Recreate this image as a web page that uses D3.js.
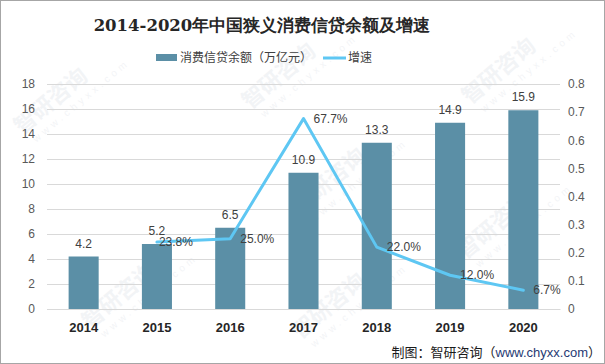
<!DOCTYPE html>
<html><head><meta charset="utf-8">
<script src="https://cdn.jsdelivr.net/npm/d3@7/dist/d3.min.js"></script>
<style>body{margin:0;background:#fff}svg{display:block}</style>
</head><body>
<svg id="c" width="605" height="364"></svg>
<script>
const years = ["2014","2015","2016","2017","2018","2019","2020"];
const balance = [4.2, 5.2, 6.5, 10.9, 13.3, 14.9, 15.9];
const growth = [null, 0.238, 0.25, 0.677, 0.22, 0.12, 0.067];
const growthLabels = ["", "23.8%", "25.0%", "67.7%", "22.0%", "12.0%", "6.7%"];
const leftTicks = [0,2,4,6,8,10,12,14,16,18];
const rightTicks = [0,0.1,0.2,0.3,0.4,0.5,0.6,0.7,0.8];

(function(){
const svg = d3.select("#c");
const W = 605, H = 364;
const pL = 47, pR = 560, pT = 84, pB = 309;
const barColor = "#5b8fa6", lineColor = "#5ec7f3";
const cjk = "'Noto Sans CJK SC','Microsoft YaHei',sans-serif";

svg.append("rect").attr("x",0.5).attr("y",0.5).attr("width",W-1).attr("height",H-1)
  .attr("fill","#fff").attr("stroke","#a6a6a6");

// faint watermarks
const wm = [[22,135],[250,110],[470,105],[465,260],[300,215],[90,330],[300,340]];
wm.forEach(([x,y])=>{
  const g = svg.append("g").attr("transform",`translate(${x},${y}) rotate(-40)`).attr("opacity",0.07);
  g.append("text").attr("x",0).attr("y",0).attr("font-family",cjk).attr("font-size",22).attr("font-weight","bold")
    .attr("fill","#5a6f8c").text("智研咨询");
  g.append("text").attr("x",6).attr("y",15).attr("font-family","Arial,sans-serif").attr("font-size",10)
    .attr("letter-spacing",4).attr("fill","#5a6f8c").text("www.chyxx.com");
});

const x = d3.scaleBand().domain(years).range([pL,pR]).paddingInner(0.59).paddingOuter(0.295);
const y = d3.scaleLinear().domain([0,18]).range([pB,pT]);
const y2 = d3.scaleLinear().domain([0,0.8]).range([pB,pT]);

// gridlines
svg.append("g").selectAll("line").data(leftTicks).join("line")
  .attr("x1",pL).attr("x2",pR).attr("y1",d=>y(d)+0.5).attr("y2",d=>y(d)+0.5)
  .attr("stroke","#d9d9d9").attr("stroke-width",1);

// left axis
const la = svg.append("g").attr("transform",`translate(${pL},0)`)
  .call(d3.axisLeft(y).tickValues(leftTicks).tickSize(0).tickPadding(12));
la.select(".domain").remove();
la.selectAll("text").attr("font-family","'Liberation Sans',Arial,sans-serif").attr("font-size",12).attr("fill","#595959");

// right axis
const ra = svg.append("g").attr("transform",`translate(${pR},0)`)
  .call(d3.axisRight(y2).tickValues(rightTicks).tickFormat(d=>d===0?"0":d3.format(".1f")(d)).tickSize(0).tickPadding(8));
ra.select(".domain").remove();
ra.selectAll("text").attr("font-family","'Liberation Sans',Arial,sans-serif").attr("font-size",12).attr("fill","#595959");

// bottom axis
const ba = svg.append("g").attr("transform",`translate(0,${pB})`)
  .call(d3.axisBottom(x).tickSize(0).tickPadding(14));
ba.select(".domain").attr("stroke","#d9d9d9");
ba.selectAll("text").attr("font-family","'Liberation Sans',Arial,sans-serif").attr("font-size",13)
  .attr("font-weight","bold").attr("fill","#262626");

// bars
svg.append("g").selectAll("rect").data(years).join("rect")
  .attr("x",d=>x(d)).attr("width",x.bandwidth())
  .attr("y",(d,i)=>y(balance[i])).attr("height",(d,i)=>pB-y(balance[i]))
  .attr("fill",barColor);
svg.append("g").selectAll("text").data(years).join("text")
  .attr("x",d=>x(d)+x.bandwidth()/2).attr("y",(d,i)=>y(balance[i])-9)
  .attr("text-anchor","middle").attr("font-family","'Liberation Sans',Arial,sans-serif").attr("font-size",12)
  .attr("fill","#404040").text((d,i)=>balance[i].toFixed(1));

// line
const pts = years.map((d,i)=>({d, v:growth[i], l:growthLabels[i]})).filter(p=>p.v!==null);
const line = d3.line().x(p=>x(p.d)+x.bandwidth()/2).y(p=>y2(p.v));
svg.append("path").datum(pts).attr("d",line).attr("fill","none")
  .attr("stroke",lineColor).attr("stroke-width",3).attr("stroke-linejoin","round").attr("stroke-linecap","round");
svg.append("g").selectAll("text").data(pts).join("text")
  .attr("x",p=>x(p.d)+x.bandwidth()/2+(p.d==="2015"?2:10)).attr("y",p=>y2(p.v)+4)
  .attr("font-family","'Liberation Sans',Arial,sans-serif").attr("font-size",12)
  .attr("fill","#404040").text(p=>p.l);

// title
svg.append("text").attr("x",262).attr("y",31).attr("text-anchor","middle")
  .attr("font-family","'DejaVu Serif','Liberation Serif',serif").attr("font-size",16.5).attr("font-weight","bold")
  .attr("fill","#262626").text("2014-2020年中国狭义消费信贷余额及增速");

// legend
svg.append("rect").attr("x",156).attr("y",54).attr("width",21).attr("height",7).attr("fill",barColor);
svg.append("text").attr("x",180).attr("y",62).attr("font-family",cjk).attr("font-size",12).attr("fill","#404040")
  .text("消费信贷余额（万亿元）");
svg.append("line").attr("x1",323).attr("x2",346).attr("y1",58).attr("y2",58).attr("stroke",lineColor).attr("stroke-width",3);
svg.append("text").attr("x",348).attr("y",62).attr("font-family",cjk).attr("font-size",12).attr("fill","#404040")
  .text("增速");

// source
const src = svg.append("text").attr("x",601).attr("y",357).attr("text-anchor","end")
  .attr("font-family",cjk).attr("font-size",13).attr("fill","#1a1a1a");
src.append("tspan").text("制图：智研咨询（");
src.append("tspan").attr("fill","#1f3a73").attr("font-family","'Liberation Sans',Arial,sans-serif").text("www.chyxx.com");
src.append("tspan").text("）");
})();
</script>
</body></html>
